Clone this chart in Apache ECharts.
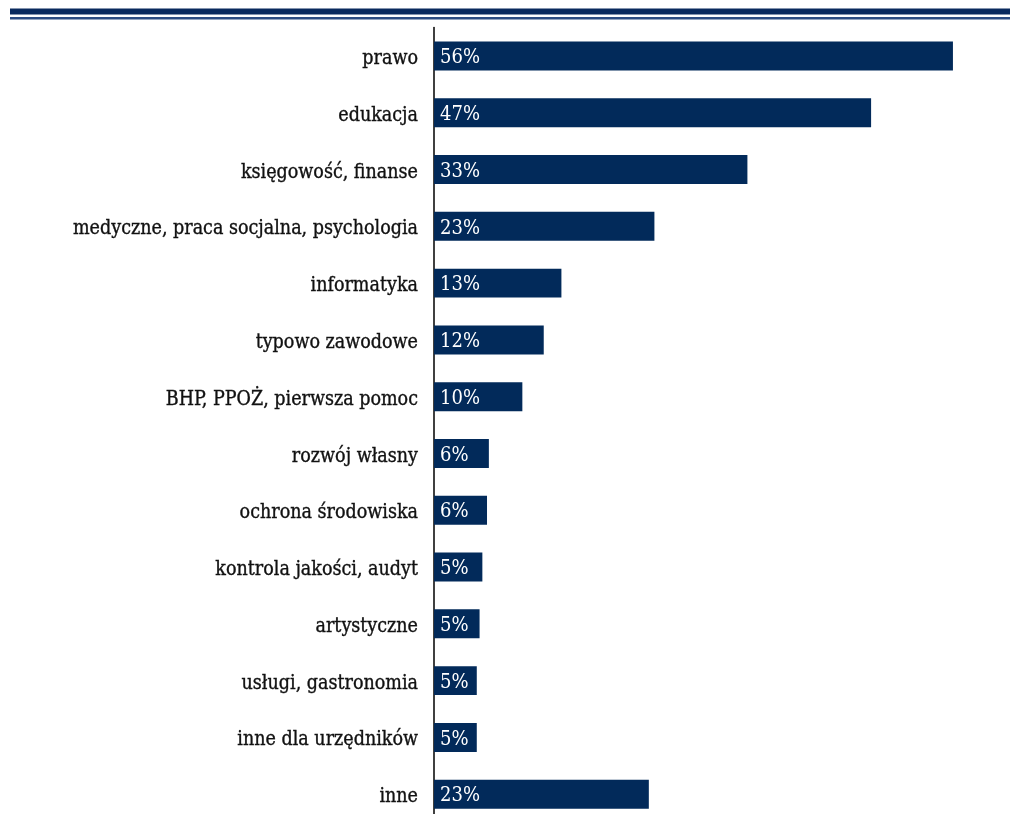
<!DOCTYPE html>
<html>
<head>
<meta charset="utf-8">
<script src="https://cdn.jsdelivr.net/npm/echarts@6/dist/echarts.min.js"></script>
<style>
  html, body { margin: 0; padding: 0; background: #fff; }
  #main { width: 1010px; height: 814px; }
</style>
</head>
<body>
<div id="main"></div>
<script>
// kategorie szkoleń
const categories = [
  'prawo', 'edukacja', 'księgowość, finanse', 'medyczne, praca socjalna, psychologia',
  'informatyka', 'typowo zawodowe', 'BHP, PPOŻ, pierwsza pomoc', 'rozwój własny',
  'ochrona środowiska', 'kontrola jakości, audyt', 'artystyczne', 'usługi, gastronomia',
  'inne dla urzędników', 'inne'
]
// długości słupków
const values = [55.8, 47.0, 33.7, 23.7, 13.7, 11.8, 9.5, 5.9, 5.7, 5.2, 4.9, 4.6, 4.6, 23.1]
// etykiety na słupkach
const labels = ['56%', '47%', '33%', '23%', '13%', '12%', '10%', '6%', '6%', '5%', '5%', '5%', '5%', '23%']

const font = '"DejaVu Serif Condensed", "DejaVu Serif", serif'
const navy = '#022a5a'

let myChart = echarts.init(document.getElementById('main'))
myChart.setOption({
  animation: false,
  graphic: [
    { type: 'rect', shape: { x: 10, y: 8.5, width: 1000, height: 6 }, style: { fill: '#0a2a5e' } },
    { type: 'rect', shape: { x: 10, y: 17, width: 1000, height: 2.5 }, style: { fill: '#2c4c82' } }
  ],
  grid: {
    left: 434, width: 558, top: 27.6, height: 795,
    containLabel: false, outerBoundsMode: 'none'
  },
  xAxis: {
    type: 'value', min: 0, max: 60,
    show: false
  },
  yAxis: {
    type: 'category',
    data: categories,
    inverse: true,
    axisTick: { show: false },
    axisLine: { show: true, lineStyle: { color: '#000', width: 1.5 } },
    axisLabel: {
      margin: 16,
      formatter: v => '{a|' + v + '}',
      rich: {
        a: {
          color: '#111', fontFamily: font, fontSize: 19.5,
          padding: [6, 0, 0, 0],
          textBorderColor: '#111', textBorderWidth: 0.35
        }
      }
    }
  },
  series: [{
    type: 'bar',
    data: values,
    barWidth: '51%',
    itemStyle: { color: navy },
    label: {
      show: true,
      position: 'insideLeft',
      distance: 6,
      offset: [0, 2],
      color: '#fff',
      fontFamily: font,
      fontSize: 20,
      formatter: p => labels[p.dataIndex]
    }
  }]
})
</script>
</body>
</html>
